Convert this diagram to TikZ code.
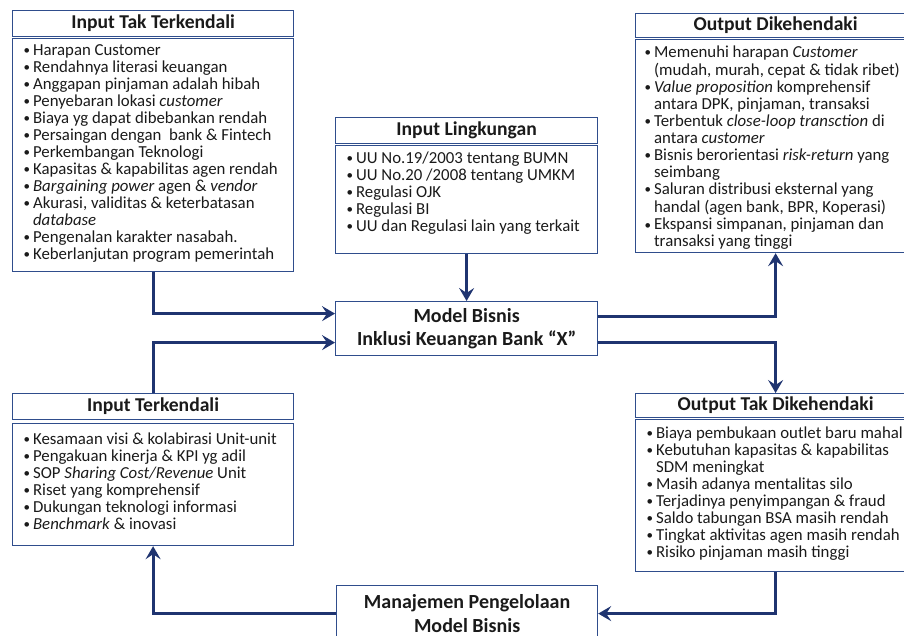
\documentclass[tikz,border=0pt]{standalone}
\usepackage{fontspec}
\setmainfont{Carlito}
\usetikzlibrary{arrows.meta}

\definecolor{boxline}{HTML}{2F4D8C}
\definecolor{arrowblue}{HTML}{1F3470}
\definecolor{txt}{HTML}{1A1A1A}

\newlength{\bulletw}
\setlength{\bulletw}{9.5pt}
% one bulleted entry; continuation lines hang under the text
\newcommand{\bi}[1]{\par\hangindent=\bulletw\hangafter=1\noindent\strut
  \makebox[\bulletw][l]{\raisebox{0.6pt}{\fontsize{13}{13}\selectfont •}}#1}
% framed list body: width, height, left indent, top gap, entries
\newcommand{\blist}[5]{\parbox[c][#2][t]{#1}{\parskip=0pt\leftskip=#3\rightskip=0pt plus 1fil
  \fontsize{16.8}{17}\selectfont\vspace*{#4}#5\par}}

\tikzset{
  frame/.style={draw=boxline, line width=1.2pt, inner sep=0pt, anchor=north west, text=txt},
  head/.style={frame, font=\fontsize{19.6}{22}\selectfont\bfseries, align=center},
  core/.style={head, font=\fontsize{20}{23.5}\selectfont\bfseries},
  link/.style={draw=arrowblue, line width=3pt, -{Stealth[length=13pt,width=15pt,inset=5pt]}},
}

\begin{document}
\begin{tikzpicture}[x=1pt, y=-1pt]
\useasboundingbox (0,0) rectangle (904,636);

% uncontrolled inputs
\node[head, minimum width=281pt, minimum height=26pt] (tlT) at (12,10) {Input Tak Terkendali};
\node[frame] (tlC) at (12,38) {\blist{281pt}{233pt}{11pt}{4.6pt}{%
  \bi{Harapan Customer}
  \bi{Rendahnya literasi keuangan}
  \bi{Anggapan pinjaman adalah hibah}
  \bi{Penyebaran lokasi \textit{customer}}
  \bi{Biaya yg dapat dibebankan rendah}
  \bi{Persaingan dengan\ \ bank \& Fintech}
  \bi{Perkembangan Teknologi}
  \bi{Kapasitas \& kapabilitas agen rendah}
  \bi{\textit{Bargaining power} agen \& \textit{vendor}}
  \bi{Akurasi, validitas \& keterbatasan\newline\textit{database}}
  \bi{Pengenalan karakter nasabah.}
  \bi{Keberlanjutan program pemerintah}}};

% environmental inputs
\node[head, minimum width=262pt, minimum height=26pt] (mT) at (335,117) {Input Lingkungan};
\node[frame] (mC) at (335,145) {\blist{262pt}{108pt}{11pt}{5.6pt}{%
  \bi{UU No.19/2003 tentang BUMN}
  \bi{UU No.20 /2008 tentang UMKM}
  \bi{Regulasi OJK}
  \bi{Regulasi BI}
  \bi{UU dan Regulasi lain yang terkait}}};

% the business model
\node[core, minimum width=262pt, minimum height=54pt] (model) at (335,301) {Model Bisnis\\Inklusi Keuangan Bank “X”};

% desired outputs
\node[head, minimum width=280pt, minimum height=24pt] (trT) at (635,13) {Output Dikehendaki};
\node[frame] (trC) at (635,39) {\blist{280pt}{213pt}{9pt}{5.6pt}{%
  \bi{Memenuhi harapan \textit{Customer}\newline(mudah, murah, cepat \& tidak ribet)}
  \bi{\textit{Value proposition} komprehensif\newline antara DPK, pinjaman, transaksi}
  \bi{Terbentuk \textit{close-loop transction} di\newline antara \textit{customer}}
  \bi{Bisnis berorientasi \textit{risk-return} yang\newline seimbang}
  \bi{Saluran distribusi eksternal yang\newline handal (agen bank, BPR, Koperasi)}
  \bi{Ekspansi simpanan, pinjaman dan\newline transaksi yang tinggi}}};

% controlled inputs
\node[head, minimum width=281pt, minimum height=26pt] (blT) at (12,393) {Input Terkendali};
\node[frame] (blC) at (12,423) {\blist{281pt}{122pt}{11pt}{8.6pt}{%
  \bi{Kesamaan visi \& kolabirasi Unit-unit}
  \bi{Pengakuan kinerja \& KPI yg adil}
  \bi{SOP \textit{Sharing Cost/Revenue} Unit}
  \bi{Riset yang komprehensif}
  \bi{Dukungan teknologi informasi}
  \bi{\textit{Benchmark} \& inovasi}}};

% undesired outputs
\node[head, minimum width=280pt, minimum height=24pt] (brT) at (635,393) {Output Tak Dikehendaki};
\node[frame] (brC) at (635,419) {\blist{280pt}{152pt}{11pt}{6.6pt}{%
  \bi{Biaya pembukaan outlet baru mahal}
  \bi{Kebutuhan kapasitas \& kapabilitas\newline SDM meningkat}
  \bi{Masih adanya mentalitas silo}
  \bi{Terjadinya penyimpangan \& fraud}
  \bi{Saldo tabungan BSA masih rendah}
  \bi{Tingkat aktivitas agen masih rendah}
  \bi{Risiko pinjaman masih tinggi}}};

% management of the model
\node[core, minimum width=261pt, minimum height=56pt] (man) at (336,585) {Manajemen Pengelolaan\\Model Bisnis};

% flows
\draw[link] (tlC.south) |- ([yshift=15pt]model.west);
\draw[link] (blT.north) |- ([yshift=-14pt]model.west);
\draw[link] (mC.south) -- (model.north);
\draw[link] ([yshift=12pt]model.east) -| (trC.south);
\draw[link] ([yshift=-14pt]model.east) -| (brT.north);
\draw[link] (brC.south) |- (man.east);
\draw[link] (man.west) -| (blC.south);
\end{tikzpicture}
\end{document}
